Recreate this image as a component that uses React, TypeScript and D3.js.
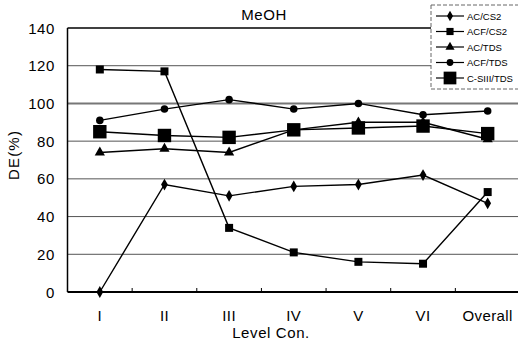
import React from 'react'
import * as d3 from 'd3'

const categories = ['I', 'II', 'III', 'IV', 'V', 'VI', 'Overall']
const yTicks = [0, 20, 40, 60, 80, 100, 120, 140]

const seriesNames = ['AC/CS2', 'ACF/CS2', 'AC/TDS', 'ACF/TDS', 'C-SIII/TDS']
const acCs2 = [0, 57, 51, 56, 57, 62, 47]
const acfCs2 = [118, 117, 34, 21, 16, 15, 53]
const acTds = [74, 76, 74, 86, 90, 90, 81]
const acfTds = [91, 97, 102, 97, 100, 94, 96]
const csiiiTds = [85, 83, 82, 86, 87, 88, 84]

const width = 518,
      height = 347,
      left = 67.5,
      right = 520,
      top = 28,
      bottom = 292

const font = '"Liberation Sans", Arial, sans-serif'

const xScale = d3.scaleBand<string>().domain(categories).range([left, right])
const yScale = d3.scaleLinear().domain([0, 140]).range([bottom, top])
const cx = (c: string) => (xScale(c) as number) + xScale.bandwidth() / 2

const symbols = [
  { type: d3.symbolDiamond, size: 40 },
  { type: d3.symbolSquare, size: 64 },
  { type: d3.symbolTriangle, size: 45 },
  { type: d3.symbolCircle, size: 45 },
  { type: d3.symbolSquare, size: 180 }
]
const allSeries = [acCs2, acfCs2, acTds, acfTds, csiiiTds]

const line = d3.line<number>()
  .x((d, i) => cx(categories[i]))
  .y(d => yScale(d))

function Series ({ values, idx }: { values: number[], idx: number }) {
  const sym = d3.symbol().type(symbols[idx].type).size(symbols[idx].size)
  return (
    <g>
      <path d={line(values) as string} fill='none' stroke='#000' strokeWidth={1.4} />
      {values.map((v, i) => (
        <path key={i} d={sym() as string} fill='#000'
          transform={`translate(${cx(categories[i])}, ${yScale(v)})`} />
      ))}
    </g>
  )
}

export default function App () {
  const legendX = 431, legendY = 5
  return (
    <svg width={width} height={height}
      style={{ position: 'absolute', left: 0, top: 0, background: '#fff', fontFamily: font }}>
      {/* gridlines */}
      {yTicks.filter(t => t > 0 && t < 140).map(t => (
        <line key={t} x1={left} x2={width} y1={yScale(t)} y2={yScale(t)}
          stroke={t === 100 ? '#777' : '#555'} strokeWidth={t === 100 ? 2 : 1} />
      ))}
      {/* frame */}
      <line x1={left} x2={width} y1={top} y2={top} stroke='#000' strokeWidth={1.5} />
      <line x1={left} x2={left} y1={top} y2={bottom} stroke='#000' strokeWidth={1.5} />
      <line x1={left} x2={width} y1={bottom} y2={bottom} stroke='#000' strokeWidth={1.8} />
      {categories.slice(1).map(c => (
        <line key={c} x1={xScale(c)} x2={xScale(c)} y1={bottom} y2={bottom - 4} stroke='#000' />
      ))}
      {/* y ticks */}
      {yTicks.map(t => (
        <text key={t} x={55} y={yScale(t) + 5.5} textAnchor='end' fontSize={15}
          letterSpacing={0.6}>{t}</text>
      ))}
      {/* x ticks */}
      {categories.map(c => (
        <text key={c} x={cx(c)} y={321} textAnchor='middle' fontSize={15}
          letterSpacing={0.4}>{c}</text>
      ))}
      <text x={271} y={338} textAnchor='middle' fontSize={15} letterSpacing={0.6}>Level Con.</text>
      <text transform={`translate(19, 155) rotate(-90)`} textAnchor='middle' fontSize={15}
        letterSpacing={1.2}>DE(%)</text>
      <text x={264} y={20} textAnchor='middle' fontSize={15} letterSpacing={0.6}>MeOH</text>
      {allSeries.map((s, i) => <Series key={i} values={s} idx={i} />)}
      {/* legend */}
      <rect x={legendX} y={legendY} width={width - legendX + 2} height={84} fill='#fff'
        stroke='#666' strokeDasharray='4 2' />
      {seriesNames.map((n, i) => {
        const ly = 16 + i * 15.5
        const sym = d3.symbol().type(symbols[i].type).size(symbols[i].size * (i === 4 ? 0.9 : 0.8))
        return (
          <g key={n}>
            <line x1={436} x2={464} y1={ly} y2={ly} stroke='#000' strokeWidth={1.2} />
            <path d={sym() as string} transform={`translate(450, ${ly})`} fill='#000' />
            <text x={467} y={ly + 3.5} fontSize={9.5}>{n}</text>
          </g>
        )
      })}
    </svg>
  )
}
